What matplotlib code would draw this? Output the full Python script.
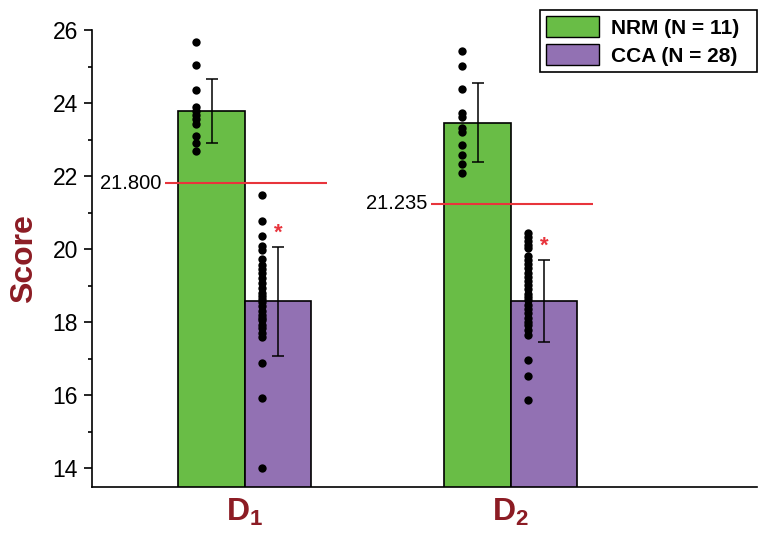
import matplotlib
matplotlib.use('Agg')
import matplotlib.pyplot as plt
import numpy as np
from matplotlib.patches import Patch

plt.rcParams['font.family'] = ['Liberation Sans', 'DejaVu Sans']
plt.rcParams['mathtext.fontset'] = 'custom'
plt.rcParams['mathtext.rm'] = 'Liberation Sans'
plt.rcParams['mathtext.bf'] = 'Liberation Sans:bold'

# data
groups = [r'$\mathbf{D_1}$', r'$\mathbf{D_2}$']
nrm_mean = [23.78, 23.46]
nrm_err = [0.88, 1.08]
cca_mean = [18.57, 18.58]
cca_err = [1.49, 1.12]
cutoffs = [21.800, 21.235]
cutoff_labels = ['21.800', '21.235']

nrm_d1 = [25.68, 25.04, 24.36, 23.89, 23.78, 23.66, 23.55, 23.42, 23.10, 22.90, 22.68]
nrm_d2 = [25.42, 25.01, 24.38, 23.73, 23.62, 23.31, 23.21, 22.85, 22.58, 22.33, 22.07]
cca_d1 = [21.48, 20.78, 20.36, 20.08, 19.97, 19.74, 19.55, 19.44, 19.33, 19.20,
          19.06, 18.92, 18.79, 18.70, 18.62, 18.56, 18.44, 18.30, 18.19, 18.10,
          18.05, 17.92, 17.83, 17.71, 17.60, 16.87, 15.91, 14.00]
cca_d2 = [20.45, 20.34, 20.23, 20.12, 20.02, 19.81, 19.70, 19.59, 19.47, 19.35,
          19.24, 19.13, 19.01, 18.90, 18.78, 18.68, 18.60, 18.47, 18.35, 18.24,
          18.12, 18.01, 17.92, 17.78, 17.64, 16.96, 16.52, 15.86]

GREEN = '#69BD46'
PURPLE = '#9271B3'
RED = '#E8343C'
DARKRED = '#8C1C24'

fig = plt.figure(figsize=(7.67, 5.39), dpi=100)
ax = fig.add_axes([0.1199, 0.0965, 0.867, 0.8478])

x = np.arange(len(groups))
w = 0.25
ax.bar(x - w/2, nrm_mean, w, color=GREEN, edgecolor='black', linewidth=1.2, zorder=2)
ax.bar(x + w/2, cca_mean, w, color=PURPLE, edgecolor='black', linewidth=1.2, zorder=2)
ax.errorbar(x - w/2, nrm_mean, yerr=nrm_err, fmt='none', ecolor='black', elinewidth=1.1,
            capsize=4, capthick=1.1, zorder=4)
ax.errorbar(x + w/2, cca_mean, yerr=cca_err, fmt='none', ecolor='black', elinewidth=1.1,
            capsize=4, capthick=1.1, zorder=4)

dx = 0.06
for i, (nv, cv) in enumerate([(nrm_d1, cca_d1), (nrm_d2, cca_d2)]):
    ax.scatter(np.full(len(nv), x[i] - w/2 - dx), nv, s=36, color='black', zorder=5, linewidths=0)
    ax.scatter(np.full(len(cv), x[i] + w/2 - dx), cv, s=36, color='black', zorder=5, linewidths=0)
    ax.text(x[i] + w/2, cca_mean[i] + cca_err[i] + 0.08, '*', color=RED, fontsize=16,
            fontweight='bold', ha='center', va='bottom', zorder=6)
    ax.hlines(cutoffs[i], x[i] - 0.30, x[i] + 0.31, color=RED, linewidth=1.5, zorder=3)
    ax.text(x[i] - 0.315, cutoffs[i], cutoff_labels[i], fontsize=14.5, ha='right', va='center')

ax.set_ylim(13.48, 26)
ax.set_xlim(-0.575, 1.925)
ax.set_yticks(np.arange(14, 27, 2))
ax.set_yticks(np.arange(15, 26, 2), minor=True)
ax.tick_params(axis='y', which='major', length=6, width=1.2, labelsize=16.5, pad=4)
ax.tick_params(axis='y', which='minor', length=3, width=1.2)
ax.set_xticks(x)
ax.set_xticklabels(groups, fontsize=23, color=DARKRED)
ax.tick_params(axis='x', length=0, pad=7)
ax.spines['top'].set_visible(False)
ax.spines['right'].set_visible(False)
ax.spines['left'].set_linewidth(1.2)
ax.spines['bottom'].set_linewidth(1.2)
ax.set_ylabel('Score', fontsize=23, fontweight='bold', color=DARKRED, labelpad=10)

handles = [Patch(facecolor=GREEN, edgecolor='black', linewidth=1.0),
           Patch(facecolor=PURPLE, edgecolor='black', linewidth=1.0)]
leg = fig.legend(handles, ['NRM (N = 11)  ', 'CCA (N = 28)  '], loc='upper right',
                 bbox_to_anchor=(0.987, 0.981), borderaxespad=0,
                 prop={'weight': 'bold', 'size': 15},
                 fancybox=False, framealpha=1, edgecolor='black', handlelength=2.5,
                 handleheight=1.15, borderpad=0.3, labelspacing=0.3, handletextpad=0.6)
leg.get_frame().set_linewidth(1.2)

fig.savefig('out.png', dpi=100)
